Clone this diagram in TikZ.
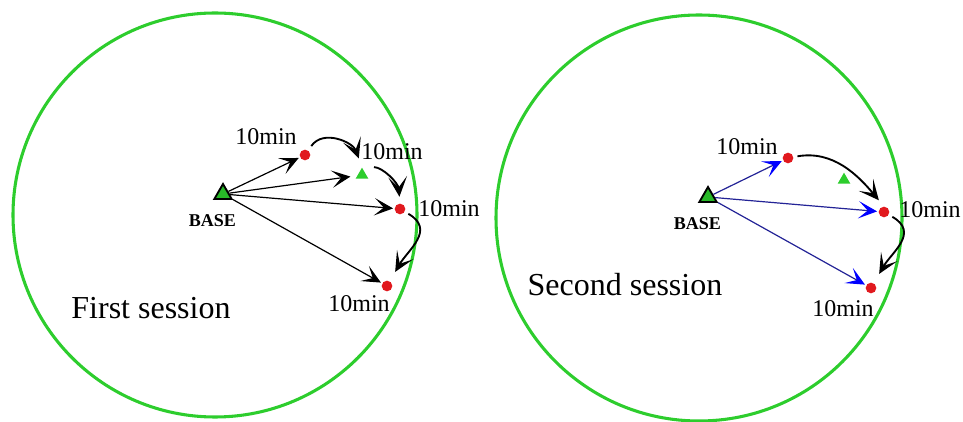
\documentclass[tikz,border=0pt]{standalone}
\usepackage{fontspec}
\setmainfont{Liberation Serif}
\usetikzlibrary{shapes.geometric, arrows.meta, positioning}

\definecolor{zonegreen}{RGB}{45,205,45}
\definecolor{basegreen}{RGB}{40,185,40}
\definecolor{dotred}{RGB}{225,25,30}
\definecolor{rayblue}{RGB}{35,35,150}

\begin{document}
\begin{tikzpicture}[x=0.75pt, y=0.75pt,
    zone/.style={draw=zonegreen, line width=2.3pt},
    base/.style={regular polygon, regular polygon sides=3, draw=black, line width=1.4pt, fill=basegreen, minimum size=15pt, inner sep=0pt},
    target/.style={circle, fill=dotred, minimum size=8pt, inner sep=0pt},
    relay/.style={regular polygon, regular polygon sides=3, fill=zonegreen, minimum size=11pt, inner sep=0pt},
    timer/.style={font=\fontsize{18}{20}\selectfont, inner sep=1pt},
    basetag/.style={font=\bfseries\fontsize{13.5}{15}\selectfont, inner sep=1pt},
    session/.style={font=\fontsize{24}{28}\selectfont},
    ray/.style={line width=0.9pt, -{Stealth[length=14pt, width=13pt, inset=7pt]}, shorten >=1pt},
    blueray/.style={ray, draw=rayblue, -{Stealth[length=14pt, width=13pt, inset=7pt, color=blue]}},
    hop/.style={line width=1.4pt, -{Stealth[length=15pt, width=14pt, inset=8pt]}}
  ]
  \useasboundingbox (0,0) rectangle (963,421);

  % First session
  \draw[zone] (215,206) circle (202);
  \node (baseA) [base] at (223,227) {};
  \node (baseAtag) [basetag, below=10pt of baseA, xshift=-8pt] {BASE};
  \node (a1) [target] at (305,266) {};
  \node (a2) [relay] at (362,246) {};
  \node (a3) [target] at (400,212) {};
  \node (a4) [target] at (387,135) {};
  \node (ta1) [timer] at (266,284) {10min};
  \node (ta2) [timer] at (392,269) {10min};
  \node (ta3) [timer] at (449,212) {10min};
  \node (ta4) [timer] at (359,117) {10min};
  \node (sessA) [session] at (151,113) {First session};

  \draw[ray] (baseA) -- (a1);
  \draw[ray, shorten >=5pt] (baseA) -- (a2);
  \draw[ray] (baseA) -- (a3);
  \draw[ray] (baseA) -- (a4);

  \draw[hop, shorten <=4pt, shorten >=7pt] (a1) to[out=55, in=110, looseness=1.2] (a2.north);
  \draw[hop, shorten <=9pt, shorten >=5pt] (a2.north) to[out=0, in=95] (a3.north);
  \draw[hop, shorten <=3pt, shorten >=8pt] (a3) to[out=-30, in=60, looseness=1.3] (a4);

  % Second session
  \draw[zone] (699,203) circle (203);
  \node (baseB) [base] at (708,224) {};
  \node (baseBtag) [basetag, below=10pt of baseB, xshift=-8pt] {BASE};
  \node (b1) [target] at (788,263) {};
  \node (b2) [relay] at (844,241) {};
  \node (b3) [target] at (884,209) {};
  \node (b4) [target] at (871,133) {};
  \node (tb1) [timer] at (747,274) {10min};
  \node (tb3) [timer] at (930,211) {10min};
  \node (tb4) [timer] at (843,112) {10min};
  \node (sessB) [session] at (625,136) {Second session};

  \draw[blueray] (baseB) -- (b1);
  \draw[blueray] (baseB) -- (b3);
  \draw[blueray] (baseB) -- (b4);

  \draw[hop, shorten <=3pt, shorten >=6pt] (b1) to[out=10, in=130] (b3.north);
  \draw[hop, shorten <=3pt, shorten >=8pt] (b3) to[out=-30, in=60, looseness=1.3] (b4);
\end{tikzpicture}
\end{document}
